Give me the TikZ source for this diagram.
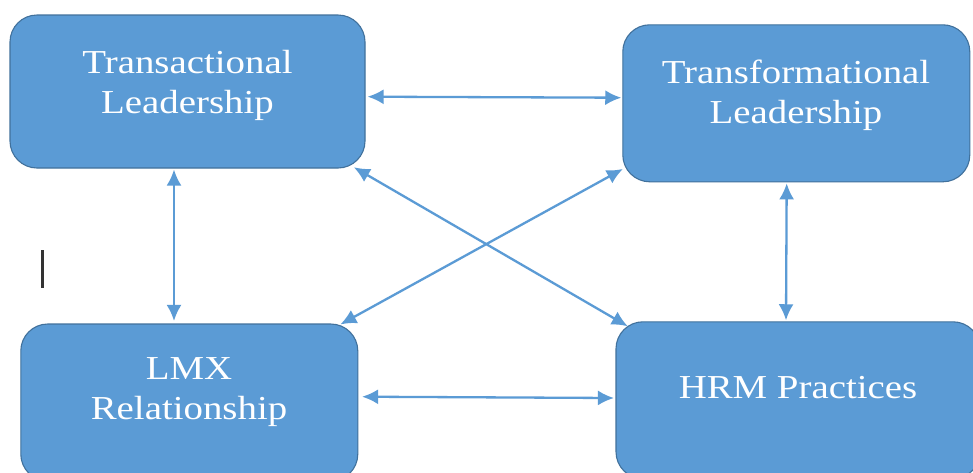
\documentclass[tikz,border=0pt]{standalone}
\usepackage{fontspec}
\setmainfont{Liberation Serif}[FakeStretch=1.16]
\usetikzlibrary{arrows.meta,calc}
\definecolor{boxfill}{HTML}{5B9BD5}
\definecolor{boxedge}{HTML}{41719C}
\definecolor{arrowblue}{HTML}{5B9BD5}
\newcommand{\boxfont}{\fontsize{33.5}{40}\selectfont\color{white}}
\tikzset{
  factor/.style={draw=boxedge, line width=1.1pt, fill=boxfill, rounded corners=27pt,
    rectangle, inner sep=0pt},
  boxtext/.style={font=\boxfont, align=center, inner sep=0pt},
  link/.style={draw=arrowblue, line width=2.3pt,
    {Latex[length=16pt,width=15pt]}-{Latex[length=16pt,width=15pt]}},
}
\begin{document}
\begin{tikzpicture}[x=1pt,y=-1pt]
  \useasboundingbox (0,0) rectangle (973,472);
  \clip (0,0) rectangle (973,472);
  \fill[white] (0,0) rectangle (973,472);

  % the four factors
  \node[factor, minimum width=355pt, minimum height=153pt] (tl) at (187.5,91.5) {};
  \node[factor, minimum width=347pt, minimum height=157pt] (tr) at (796.3,103.3) {};
  \node[factor, minimum width=337pt, minimum height=157pt] (bl) at (189.3,402.5) {};
  \node[factor, minimum width=364pt, minimum height=157pt] (br) at (798,400.3) {};

  % their labels
  \node[boxtext] (tlt) at (187.5,85) {Transactional\\Leadership};
  \node[boxtext] (trt) at (796,95.5) {Transformational\\Leadership};
  \node[boxtext] (blt) at (189,392) {LMX\\Relationship};
  \node[boxtext, anchor=base] (brt) at (798,398) {HRM Practices};

  % two-way links
  \draw[link] ($(tl.east)+(2,5.2)$) -- ($(tr.west)+(-1,-5.6)$);
  \draw[link] ($(tl.south)+(-13.5,1)$) -- ($(bl.north)+(-15.3,-2.5)$);
  \draw[link] ($(tr.south)+(-9.6,1)$) -- ($(br.north)+(-12,-1)$);
  \draw[link] ($(bl.east)+(3.7,-5.8)$) -- ($(br.west)+(-1.5,-2.3)$);
  \draw[link] ($(tl.south east)+(-11.7,-1.3)$) -- ($(br.north west)+(12.3,5)$);
  \draw[link] ($(tr.south west)+(0.6,-13.4)$) -- ($(bl.north east)+(-18,1)$);

  % stray text cursor
  \draw[line width=2.4pt, color=black!80] (42.5,250) -- (42.5,288);
\end{tikzpicture}
\end{document}
